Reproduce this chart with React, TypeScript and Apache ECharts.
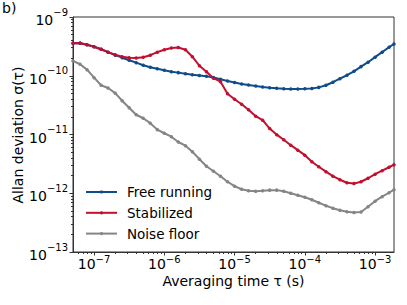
import React, { useEffect, useRef } from "react";
import * as echarts from "echarts";

// Averaging time tau (s)
const tau = [
  5.01e-8, 6.31e-8, 7.94e-8, 1.0e-7, 1.26e-7, 1.58e-7, 2.0e-7, 2.51e-7, 3.16e-7, 3.98e-7,
  5.01e-7, 6.31e-7, 7.94e-7, 1.0e-6, 1.26e-6, 1.58e-6, 2.0e-6, 2.51e-6, 3.16e-6, 3.98e-6,
  5.01e-6, 6.31e-6, 7.94e-6, 1.0e-5, 1.26e-5, 1.58e-5, 2.0e-5, 2.51e-5, 3.16e-5, 3.98e-5,
  5.01e-5, 6.31e-5, 7.94e-5, 1.0e-4, 1.26e-4, 1.58e-4, 2.0e-4, 2.51e-4, 3.16e-4, 3.98e-4,
  5.01e-4, 6.31e-4, 7.94e-4, 1.0e-3, 1.26e-3, 1.58e-3, 1.86e-3,
];

const freeRunning = [
  3.58e-10, 3.58e-10, 3.38e-10, 3.12e-10, 2.83e-10, 2.52e-10, 2.24e-10, 2.03e-10, 1.84e-10, 1.67e-10,
  1.51e-10, 1.40e-10, 1.32e-10, 1.24e-10, 1.17e-10, 1.13e-10, 1.08e-10, 1.04e-10, 1.01e-10, 9.8e-11,
  9.33e-11, 8.73e-11, 8.17e-11, 7.67e-11, 7.24e-11, 6.93e-11, 6.67e-11, 6.46e-11, 6.26e-11, 6.11e-11,
  6.03e-11, 5.97e-11, 5.97e-11, 5.99e-11, 6.07e-11, 6.34e-11, 6.9e-11, 7.76e-11, 8.91e-11, 1.02e-10,
  1.19e-10, 1.43e-10, 1.7e-10, 2.07e-10, 2.52e-10, 3.06e-10, 3.47e-10,
];

const stabilized = [
  3.58e-10, 3.61e-10, 3.38e-10, 3.12e-10, 2.83e-10, 2.52e-10, 2.28e-10, 2.11e-10, 2.03e-10, 2.0e-10,
  2.07e-10, 2.24e-10, 2.52e-10, 2.77e-10, 2.97e-10, 3.03e-10, 2.77e-10, 2.11e-10, 1.48e-10, 1.17e-10,
  9.08e-11, 7.92e-11, 4.94e-11, 3.99e-11, 3.28e-11, 2.64e-11, 2.05e-11, 1.75e-11, 1.26e-11, 9.93e-12,
  8.15e-12, 6.58e-12, 5.41e-12, 4.45e-12, 3.44e-12, 2.83e-12, 2.33e-12, 1.95e-12, 1.7e-12, 1.51e-12,
  1.46e-12, 1.57e-12, 1.8e-12, 2.11e-12, 2.42e-12, 2.77e-12, 3.06e-12,
];

const noiseFloor = [
  1.79e-10, 1.57e-10, 1.27e-10, 9.27e-11, 6.9e-11, 6.18e-11, 5.05e-11, 3.76e-11, 2.86e-11, 2.17e-11,
  1.89e-11, 1.56e-11, 1.21e-11, 1.05e-11, 9.18e-12, 7.45e-12, 6.44e-12, 5.09e-12, 3.8e-12, 2.88e-12,
  2.37e-12, 1.95e-12, 1.57e-12, 1.32e-12, 1.17e-12, 1.1e-12, 1.08e-12, 1.1e-12, 1.13e-12, 1.13e-12,
  1.08e-12, 1.0e-12, 9.27e-13, 8.57e-13, 7.76e-13, 6.9e-13, 6.14e-13, 5.57e-13, 5.14e-13, 4.85e-13,
  4.72e-13, 4.8e-13, 5.9e-13, 7.32e-13, 8.73e-13, 1.02e-12, 1.15e-12,
];

const seriesNames = ["Free running", "Stabilized", "Noise floor"];
const seriesColors = ["#0f4c8a", "#c1102f", "#858585"];

// Tick exponents (decades)
const xMajorExp = [-7, -6, -5, -4, -3];
const yMajorExp = [-13, -12, -11, -10, -9];

const FONT = "DejaVu Sans";
const AXIS_COLOR = "#333";

function minorTicks(exps: number[], lo: number, hi: number) {
  const out: number[] = [];
  const all = [exps[0] - 1, ...exps];
  for (const e of all) {
    for (let k = 2; k <= 9; k++) {
      const v = e + Math.log10(k);
      if (v >= lo && v <= hi) out.push(v);
    }
  }
  return out;
}

function powLabel(v: number) {
  const e = Math.round(v);
  return `{b|10}{e|\u2212${Math.abs(e)}}`;
}

const richX = {
  b: { fontFamily: FONT, fontSize: 14, lineHeight: 17, verticalAlign: "bottom", color: "#000" },
  e: { fontFamily: FONT, fontSize: 10, lineHeight: 8, verticalAlign: "top", color: "#000" },
};
const richY = {
  b: { fontFamily: FONT, fontSize: 14, lineHeight: 20, verticalAlign: "bottom", color: "#000" },
  e: { fontFamily: FONT, fontSize: 10, lineHeight: 9, verticalAlign: "top", color: "#000" },
};

export default function App() {
  const ref = useRef<HTMLDivElement>(null);
  useEffect(() => {
    if (!ref.current) return;
    const chart = echarts.init(ref.current, null, { renderer: "svg" });
    const xMin = Math.log10(tau[0]);
    const xMax = Math.log10(tau[tau.length - 1]);
    const yMin = -13;
    const yMax = -9;
    const toData = (vals: number[]) => tau.map((t, i) => [Math.log10(t), Math.log10(vals[i])]);
    const allSeries = [freeRunning, stabilized, noiseFloor];

    const option: any = {
      animation: false,
      textStyle: { fontFamily: FONT },
      graphic: [
        {
          type: "text",
          x: 2,
          y: 1,
          style: { text: "b)", fontFamily: FONT, fontSize: 14, fill: "#000" },
        },
        {
          type: "text",
          x: 18,
          y: 135,
          rotation: Math.PI / 2,
          style: {
            text: "Allan deviation \u03c3(\u03c4)",
            fontFamily: FONT,
            fontSize: 14,
            fill: "#000",
            align: "center",
            verticalAlign: "middle",
            textAlign: "center",
            textVerticalAlign: "middle",
          },
        },
      ],
      grid: {
        left: 73,
        right: 13,
        top: 17,
        bottom: 53,
        show: true,
        borderColor: AXIS_COLOR,
        borderWidth: 1,
        backgroundColor: "transparent",
        outerBoundsMode: "none",
        containLabel: false,
      },
      legend: {
        orient: "vertical",
        left: 85,
        top: 185,
        padding: 0,
        itemWidth: 31,
        itemHeight: 4,
        itemGap: 6.8,
        data: seriesNames,
        textStyle: { fontFamily: FONT, fontSize: 13.5, color: "#000", padding: [0, 0, 0, 5] },
      },
      xAxis: [
        {
          type: "value",
          min: xMin,
          max: xMax,
          position: "bottom",
          axisLine: { show: true, lineStyle: { color: AXIS_COLOR, width: 1 } },
          axisTick: { show: true, length: 3.5, customValues: xMajorExp, lineStyle: { color: AXIS_COLOR } },
          axisLabel: {
            customValues: xMajorExp,
            formatter: powLabel,
            rich: richX,
            margin: 2,
          },
          splitLine: { show: false },
          name: "Averaging time \u03c4 (s)",
          nameLocation: "middle",
          nameGap: 21.5,
          nameMoveOverlap: false,
          nameTextStyle: { fontFamily: FONT, fontSize: 14, color: "#000" },
        },
        {
          type: "value",
          min: xMin,
          max: xMax,
          position: "bottom",
          axisLine: { show: false },
          axisTick: { show: true, length: 2, customValues: minorTicks(xMajorExp, xMin, xMax), lineStyle: { color: AXIS_COLOR } },
          axisLabel: { show: false },
          splitLine: { show: false },
        },
      ],
      yAxis: [
        {
          type: "value",
          min: yMin,
          max: yMax,
          position: "left",
          axisLine: { show: true, lineStyle: { color: AXIS_COLOR, width: 1 } },
          axisTick: { show: true, length: 3.5, customValues: yMajorExp, lineStyle: { color: AXIS_COLOR } },
          axisLabel: {
            customValues: yMajorExp,
            formatter: powLabel,
            rich: richY,
            margin: 5,
          },
          splitLine: { show: false },
        },
        {
          type: "value",
          min: yMin,
          max: yMax,
          position: "left",
          axisLine: { show: false },
          axisTick: { show: true, length: 2, customValues: minorTicks(yMajorExp, yMin, yMax), lineStyle: { color: AXIS_COLOR } },
          axisLabel: { show: false },
          splitLine: { show: false },
        },
      ],
      series: allSeries.map((vals, i) => ({
        name: seriesNames[i],
        type: "line",
        xAxisIndex: 0,
        yAxisIndex: 0,
        data: toData(vals),
        symbol: "circle",
        symbolSize: 3.5,
        showSymbol: true,
        showAllSymbol: true,
        color: seriesColors[i],
        lineStyle: { width: 2, color: seriesColors[i] },
        itemStyle: { color: seriesColors[i] },
        emphasis: { disabled: true },
      })),
    };
    chart.setOption(option);
    return () => chart.dispose();
  }, []);
  return (
    <div
      ref={ref}
      style={{ position: "absolute", left: 0, top: 0, width: 407, height: 305 }}
    />
  );
}
